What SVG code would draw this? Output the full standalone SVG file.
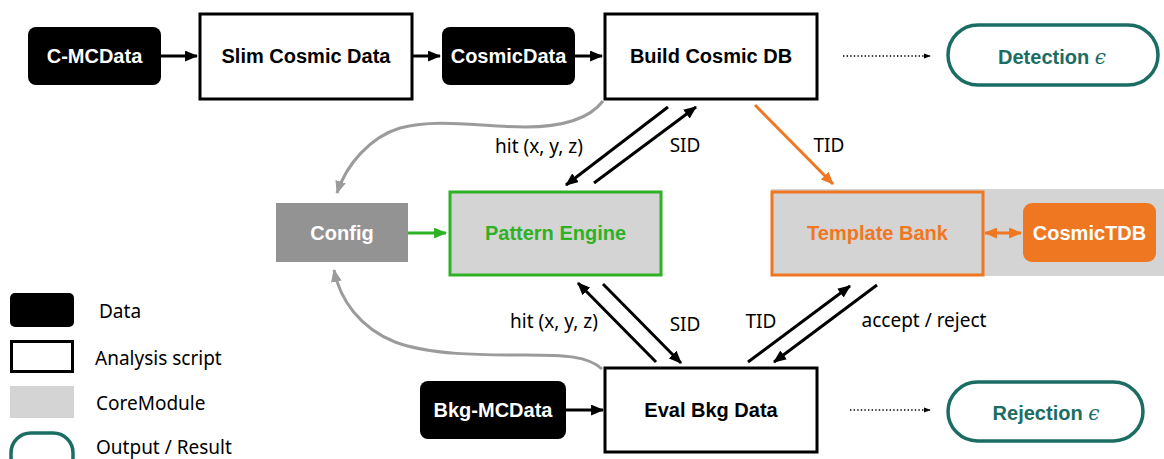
<svg xmlns="http://www.w3.org/2000/svg" width="1164" height="459" viewBox="0 0 1164 459">
<defs>
<style>
.lbl{font-family:"Liberation Sans",Arial,sans-serif;font-weight:bold;font-size:20px;text-anchor:middle}
.t{font-family:"Noto Sans","Liberation Sans",sans-serif;font-size:19px;fill:#000}
.data{fill:#000}
.script{fill:#fff;stroke:#000;stroke-width:3}
.pill{fill:#fff;stroke:#1b6d64;stroke-width:3.5}
.blk{stroke:#000;stroke-width:3;fill:none}
.gry{stroke:#9b9b9b;stroke-width:3;fill:none}
.dot{stroke:#000;stroke-width:1.3;stroke-dasharray:1.4 2.2;fill:none}
</style>
<marker id="ab" viewBox="0 0 12 10" refX="11" refY="5" markerWidth="13" markerHeight="11" markerUnits="userSpaceOnUse" orient="auto"><path d="M0,0 L12,5 L0,10 z" fill="#000"/></marker>
<marker id="ag" viewBox="0 0 12 10" refX="11" refY="5" markerWidth="13" markerHeight="11" markerUnits="userSpaceOnUse" orient="auto"><path d="M0,0 L12,5 L0,10 z" fill="#2fb126"/></marker>
<marker id="ao" viewBox="0 0 12 10" refX="11" refY="5" markerWidth="13" markerHeight="11" markerUnits="userSpaceOnUse" orient="auto-start-reverse"><path d="M0,0 L12,5 L0,10 z" fill="#f07722"/></marker>
<marker id="agr" viewBox="0 0 12 10" refX="11" refY="5" markerWidth="13" markerHeight="11" markerUnits="userSpaceOnUse" orient="auto"><path d="M0,0 L12,5 L0,10 z" fill="#9b9b9b"/></marker>
<marker id="as" viewBox="0 0 8 6" refX="7" refY="3" markerWidth="7" markerHeight="6" markerUnits="userSpaceOnUse" orient="auto"><path d="M0,0 L8,3 L0,6 z" fill="#000"/></marker>
</defs>
<rect width="1164" height="459" fill="#fff"/>

<!-- core module background for template bank -->
<rect x="771" y="189" width="393" height="87" fill="#d4d4d4"/>

<g id="connectors">
  <line class="blk" x1="161" y1="56" x2="197" y2="56" marker-end="url(#ab)"/>
  <line class="blk" x1="413" y1="56" x2="440" y2="56" marker-end="url(#ab)"/>
  <line class="blk" x1="575" y1="56" x2="602" y2="56" marker-end="url(#ab)"/>
  <line class="dot" x1="843" y1="56" x2="930" y2="56" marker-end="url(#as)"/>
  <line class="dot" x1="850" y1="410" x2="930" y2="410" marker-end="url(#as)"/>
  <line class="blk" x1="566" y1="410" x2="603" y2="410" marker-end="url(#ab)"/>
  <path class="gry" d="M603 101 C590 118,565 127,525 127 C480 127,440 118,400 128 C370 137,346 165,337 193" marker-end="url(#agr)"/>
  <path class="gry" d="M602 369 C588 356,565 355,525 355 C480 355,430 355,395 342 C360 328,340 300,334 270" marker-end="url(#agr)"/>
  <line x1="408" y1="233" x2="446" y2="233" stroke="#2fb126" stroke-width="3" marker-end="url(#ag)"/>
  <line x1="985" y1="233" x2="1021" y2="233" stroke="#f07722" stroke-width="3" marker-start="url(#ao)" marker-end="url(#ao)"/>
  <line x1="755" y1="105" x2="833" y2="184" stroke="#f07722" stroke-width="3" marker-end="url(#ao)"/>
  <line class="blk" x1="668" y1="107" x2="566" y2="185" marker-end="url(#ab)"/>
  <line class="blk" x1="594" y1="183" x2="696" y2="107" marker-end="url(#ab)"/>
  <line class="blk" x1="656" y1="362" x2="578" y2="283" marker-end="url(#ab)"/>
  <line class="blk" x1="603" y1="284" x2="681" y2="363" marker-end="url(#ab)"/>
  <line class="blk" x1="748" y1="362" x2="850" y2="286" marker-end="url(#ab)"/>
  <line class="blk" x1="877" y1="285" x2="774" y2="362" marker-end="url(#ab)"/>
  <text class="t" x="539" y="153" text-anchor="middle">hit (x, y, z)</text>
  <text class="t" x="685" y="152" text-anchor="middle">SID</text>
  <text class="t" x="829" y="152" text-anchor="middle">TID</text>
  <text class="t" x="554" y="328" text-anchor="middle">hit (x, y, z)</text>
  <text class="t" x="685" y="331" text-anchor="middle">SID</text>
  <text class="t" x="761" y="328" text-anchor="middle">TID</text>
  <text class="t" x="924" y="327" text-anchor="middle">accept / reject</text>
</g>

<g id="c-mcdata"><rect class="data" x="28" y="27" width="133" height="58" rx="8"/><text class="lbl" x="94.5" y="63" fill="#fff">C-MCData</text></g>
<g id="slim-cosmic-data"><rect class="script" x="200" y="14" width="212" height="85"/><text class="lbl" x="306" y="63">Slim Cosmic Data</text></g>
<g id="cosmicdata"><rect class="data" x="442" y="27" width="133" height="58" rx="8"/><text class="lbl" x="508.5" y="63" fill="#fff">CosmicData</text></g>
<g id="build-cosmic-db"><rect class="script" x="605" y="14" width="212" height="85"/><text class="lbl" x="711" y="63">Build Cosmic DB</text></g>
<g id="detection"><rect class="pill" x="948" y="25" width="210" height="60" rx="30"/><text class="lbl" x="1052" y="64" fill="#1b6d64">Detection <tspan font-family="'DejaVu Serif',serif" font-style="italic" font-weight="normal">ϵ</tspan></text></g>
<g id="config"><rect x="276" y="203" width="132" height="59" fill="#939393"/><text class="lbl" x="342" y="240" fill="#fff">Config</text></g>
<g id="pattern-engine"><rect x="450" y="192" width="211" height="83" fill="#d4d4d4" stroke="#2fb126" stroke-width="3"/><text class="lbl" x="555.5" y="240" fill="#2fb126">Pattern Engine</text></g>
<g id="template-bank"><rect x="772" y="192" width="211" height="83" fill="#d4d4d4" stroke="#f07722" stroke-width="3"/><text class="lbl" x="877.5" y="240" fill="#f07722">Template Bank</text></g>
<g id="cosmictdb"><rect x="1023" y="203" width="133" height="59" rx="9" fill="#f07722"/><text class="lbl" x="1089.5" y="240" fill="#fff">CosmicTDB</text></g>
<g id="bkg-mcdata"><rect class="data" x="420" y="381" width="146" height="58" rx="8"/><text class="lbl" x="493" y="417" fill="#fff">Bkg-MCData</text></g>
<g id="eval-bkg-data"><rect class="script" x="605" y="368" width="212" height="84"/><text class="lbl" x="711" y="417">Eval Bkg Data</text></g>
<g id="rejection"><rect class="pill" x="948" y="382" width="195" height="59" rx="29.5"/><text class="lbl" x="1046" y="420" fill="#1b6d64">Rejection <tspan font-family="'DejaVu Serif',serif" font-style="italic" font-weight="normal">ϵ</tspan></text></g>

<g id="legend">
  <rect x="10" y="293" width="64" height="34" rx="5" fill="#000"/>
  <text class="t" x="99" y="318">Data</text>
  <rect x="11.5" y="341.5" width="61" height="30" fill="#fff" stroke="#000" stroke-width="3"/>
  <text class="t" x="95" y="365">Analysis script</text>
  <rect x="10" y="386" width="64" height="32" fill="#d4d4d4"/>
  <text class="t" x="96" y="410">CoreModule</text>
  <rect x="11" y="433" width="62" height="44" rx="20" fill="none" stroke="#1b6d64" stroke-width="3.5"/>
  <text class="t" x="96" y="454">Output / Result</text>
</g>
</svg>
